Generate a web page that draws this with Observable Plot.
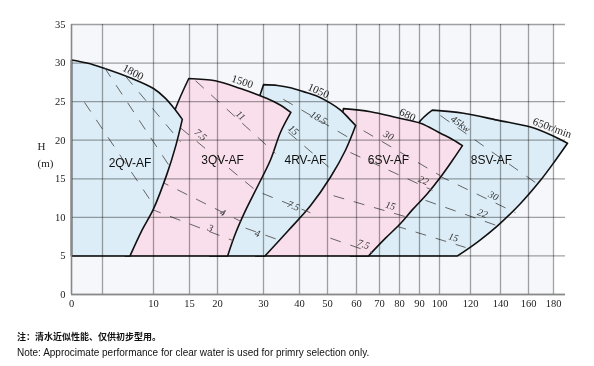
<!DOCTYPE html>
<html><head><meta charset="utf-8">
<script src="https://cdn.jsdelivr.net/npm/d3@7"></script>
<script src="https://cdn.jsdelivr.net/npm/@observablehq/plot@0.6"></script>
<style>
body{margin:0;background:#fff;}
#chart{width:594px;height:366px;position:relative;overflow:hidden;}
.cap{position:absolute;left:17px;color:#111;white-space:nowrap;}
#c1{top:330px;font-family:"Noto Sans CJK SC",sans-serif;font-size:9px;font-weight:bold;}
#c2{top:347px;font-family:"Liberation Sans",Arial,sans-serif;font-size:10px;}
</style></head><body><div id="chart"></div>
<script>
// axis values
const xTicks = [0,10,15,20,30,40,50,60,70,80,90,100,120,140,160,180];
const xGrid  = [0,5,10,15,20,30,40,50,60,70,80,90,100,120,140,160,180];
const yTicks = [0,5,10,15,20,25,30,35];

// model names and label anchors (Q m3/h, H m)
const models = ["2QV-AF","3QV-AF","4RV-AF","6SV-AF","8SV-AF"];
const modelQ = [7.7,21.1,42.1,74.5,134];
const modelH = [17.0,17.4,17.4,17.4,17.4];

// speed labels on the top curves
const speedLabels = ["1800","1500","1050","680","650r/min"];
const speedQ = [8.0,25.4,46.8,84,179];
const speedH = [28.8,27.6,26.4,23.3,21.6];
const speedRot = [28,18,24,26,20];

// region edges [Q, H]: left (bottom -> top-left), top (-> tip), right (tip -> bottom)
const left2QV  = [[0,5],[0,30.4]];
const top2QV   = [[0,30.4],[2.5,30.0],[5,29.4],[7.9,28.0],[10,26.7],[11.7,25.4],[12.8,24.2],[14.0,22.7]];
const right2QV = [[14.0,22.7],[13.1,19.3],[11.9,15.7],[10,11.1],[8.9,8.4],[7.7,5]];
const left3QV  = [[7.25,5],[9.2,11.5],[11.0,16.7],[11.7,20.0],[13.1,24.2],[14.9,28.0]];
const top3QV   = [[14.9,28.0],[19.6,27.7],[25.0,26.7],[31.0,25.4],[34.5,24.6],[37.6,23.6]];
const right3QV = [[37.6,23.6],[34.7,21.0],[31.9,17.4],[28.7,14.0],[26.1,10.9],[23.9,7.9],[22.2,5]];
const left4RV  = [[18.6,5],[20.7,10.9],[24.1,16.7],[27.4,22.6],[30,27.2]];
const top4RV   = [[30,27.2],[33.9,27.1],[37.5,26.8],[41.4,26.3],[46.4,25.7],[51.0,24.8],[54.5,23.9],[57.2,22.9],[59.7,21.9]];
const right4RV = [[59.7,21.9],[56.2,18.7],[51.0,15.2],[43.9,11.5],[36.9,8.3],[30.4,5]];
const left6SV  = [[28.3,5],[34.7,8.3],[42.1,12.8],[49.3,17.4],[53.8,21.3],[55.5,24.1]];
const top6SV   = [[55.5,24.1],[66.1,23.7],[79,22.9],[90.5,22.2],[100.6,20.9],[108.4,20.1],[114.8,19.3]];
const right6SV = [[114.8,19.3],[108.4,17.4],[100.6,15.2],[94,13.1],[86.5,11.0],[80.5,9.2],[73,7.3],[65.2,5]];
const left8SV  = [[57.9,5],[67,9.3],[75.5,13.5],[83,18.0],[89.5,22.2],[96.4,23.9]];
const top8SV   = [[96.4,23.9],[115.5,23.5],[138,22.6],[161.6,21.7],[177.6,20.7],[191.2,19.6]];
const right8SV = [[191.2,19.6],[181.6,17.4],[169.6,14.8],[154.3,11.8],[138,8.9],[125.3,6.9],[111.6,5]];

// power lines [Q1, H1, Q2, H2, label, labelQ, labelH]
const power2QV = [[5.2,29.4,12.6,16.1,""],[2.1,24.9,9.7,12.2,""],[7.25,28.3,13.75,19.8,""]];
const power3QV = [[16.1,27.7,33.3,18.3,"11",25,23.2],[13.75,21.6,28.9,13.2,"7.5",17,20.7],[10.7,14.8,25,9.5,"4",21.1,10.6],[9.7,11.1,23.3,7.0,"3",18.75,8.6]];
const power4RV = [[35.5,25.3,57.5,20.3,"18.5",46.8,22.9],[32.5,22.8,51.7,16.1,"15",38.3,21.3],[29.8,13.1,43.9,10.6,"7.5",38.3,11.5],[26.1,8.6,34.7,7.0,"4",28.7,7.9]];
const power6SV = [[56.2,22.6,100.6,15.4,"30",74.5,20.6],[57.9,18.4,96.5,13.5,"22",92,14.8],[52.1,12.8,85.5,9.9,"15",75.5,11.5],[51.0,7.3,67,5.4,"7.5",63,6.5]];
const power8SV = [[100.6,23.2,165.6,14.5,"45kw",113.5,22.1],[99.7,15.4,150.7,10.6,"30",135.3,12.8],[93,12.2,138,8.9,"22",128,10.5],[78,8.9,116.8,6.1,"15",109,7.4]];

const blue = "#dcedf7", pink = "#f9dfeb";
// non-uniform horizontal axis: grid value -> horizontal position
const xPos = [71,102,153,189,217,263,299,327,356,379,399,419,439,470,500,528,553];
const pw = d3.scaleLinear().domain(xGrid).range(xPos);
const sy = d3.scaleLinear().domain([0,35]).range([294,24]);
const ang = d => Math.atan2(sy(d[3]) - sy(d[1]), pw(d[2]) - pw(d[0])) * 180 / Math.PI;

// closed outline; shared corner points keep the corners sharp with catmull-rom
const outline = (l, t, r) => [...l, ...t, ...r, r[r.length-1], l[0], l[0]];

const regionMarks = (l, t, r, power, fill) => [
  Plot.line(outline(l, t, r), {x: d => d[0], y: d => d[1], fill, stroke: "#111", strokeWidth: 1.6, strokeLinejoin: "round", curve: "catmull-rom"}),
  Plot.link(power, {x1: d => d[0], y1: d => d[1], x2: d => d[2], y2: d => d[3], stroke: "#555", strokeWidth: 0.9, strokeDasharray: "11,10"}),
  Plot.text(power.filter(d => d[4]), {x: d => d[5], y: d => d[6], text: d => d[4], rotate: d => ang(d), fontSize: 10, fill: "#333", fontFamily: "Liberation Serif", fontStyle: "italic"})
];

const bg = [{x1: xTicks[0], x2: xTicks[xTicks.length-1], y1: yTicks[0], y2: yTicks[yTicks.length-1]}];

const chart = Plot.plot({
  width: 594, height: 318,
  marginLeft: 71, marginRight: 29, marginTop: 24, marginBottom: 24,
  x: {type: "linear", domain: [71, 565], range: [71, 565], transform: v => pw(v), axis: null},
  y: {domain: [0,35]},
  style: {background: "transparent", fontFamily: "'Liberation Serif', serif", color: "#222"},
  marks: [
    Plot.rect(bg, {x1: "x1", x2: "x2", y1: "y1", y2: "y2", fill: "#f5f7fa"}),
    ...regionMarks(left8SV, top8SV, right8SV, power8SV, blue),
    ...regionMarks(left6SV, top6SV, right6SV, power6SV, pink),
    ...regionMarks(left4RV, top4RV, right4RV, power4RV, blue),
    ...regionMarks(left3QV, top3QV, right3QV, power3QV, pink),
    ...regionMarks(left2QV, top2QV, right2QV, power2QV, blue),
    Plot.text(models, {x: (d, i) => modelQ[i], y: (d, i) => modelH[i], text: d => d, fontSize: 12, fontFamily: "Liberation Sans", fill: "#111"}),
    Plot.text(speedLabels, {x: (d, i) => speedQ[i], y: (d, i) => speedH[i], text: d => d, rotate: (d, i) => speedRot[i], fontSize: 11, fontFamily: "Liberation Serif", fill: "#222"}),
    Plot.ruleX(xGrid, {stroke: "#a4a4a4", strokeWidth: 1.3, mixBlendMode: "multiply"}),
    Plot.gridY(yTicks, {stroke: "#a4a4a4", strokeOpacity: 1, strokeWidth: 1.3, mixBlendMode: "multiply"}),
    Plot.ruleX([0], {stroke: "#888", strokeWidth: 1.4}),
    Plot.ruleY([0], {stroke: "#888", strokeWidth: 1.4}),
    Plot.text(xTicks, {x: d => d, frameAnchor: "bottom", dy: 12, text: d => String(d), fontSize: 10.5}),
    Plot.axisY(yTicks, {tickSize: 0, tickPadding: 6, fontSize: 10.5, label: null}),
    Plot.text(["H"], {frameAnchor: "left", dx: -34, dy: -13, fontSize: 11}),
    Plot.text(["(m)"], {frameAnchor: "left", dx: -34, dy: 4, fontSize: 11})
  ]
});
const root = document.getElementById("chart");
root.appendChild(chart);
const c1 = document.createElement("div"); c1.className = "cap"; c1.id = "c1"; c1.textContent = "注：清水近似性能、仅供初步型用。"; root.appendChild(c1);
const c2 = document.createElement("div"); c2.className = "cap"; c2.id = "c2"; c2.textContent = "Note: Approcimate performance for clear water is used for primry selection only."; root.appendChild(c2);
</script></body></html>
